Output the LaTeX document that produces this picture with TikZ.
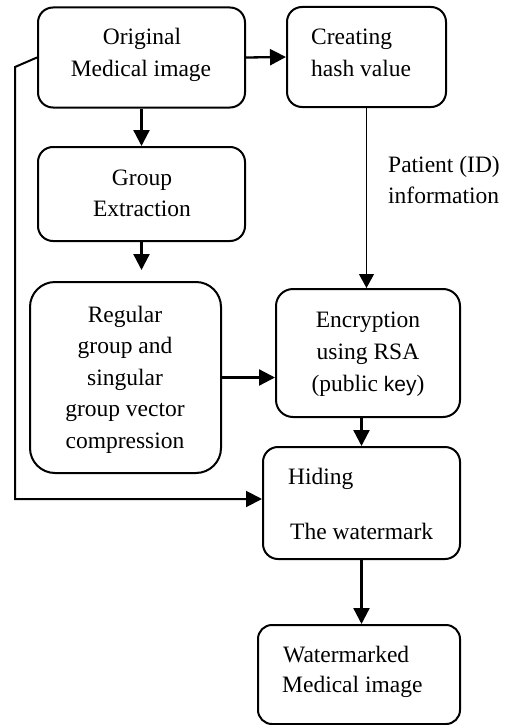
\documentclass[tikz,border=0pt]{standalone}
\usepackage{fontspec}
\setmainfont{Liberation Serif}
\newfontfamily\keyfont{Liberation Sans}
\usetikzlibrary{arrows.meta}
\begin{document}
\begin{tikzpicture}[x=1pt,y=-1pt,
  box/.style={draw, line width=2pt, rounded corners=15pt, inner sep=0pt},
  txt/.style={anchor=base, inner sep=0pt, font=\fontsize{23.5}{31}\selectfont},
  ltxt/.style={anchor=base west, inner sep=0pt, font=\fontsize{23.5}{31}\selectfont},
  arr/.style={line width=2.3pt, -{Triangle[length=16pt,width=16pt]}},
  thinarr/.style={line width=1.2pt, -{Triangle[length=14pt,width=15pt]}}]
\useasboundingbox (0,0) rectangle (505,725);
% boxes
\node[box, minimum width=207pt, minimum height=100pt] (b1) at (141.5,57.5) {};
\node[box, minimum width=159pt, minimum height=100pt] (b2) at (366.5,57) {};
\node[box, minimum width=207pt, minimum height=94pt] (b3) at (141.5,194) {};
\node[box, rounded corners=25pt, minimum width=191pt, minimum height=191pt] (b4) at (125.5,377.5) {};
\node[box, rounded corners=17pt, minimum width=184pt, minimum height=128pt] (b5) at (368,353) {};
\node[box, minimum width=197pt, minimum height=112pt] (b6) at (361.5,503) {};
\node[box, rounded corners=14pt, minimum width=202pt, minimum height=99pt] (b7) at (359,674.5) {};
% texts
\node[txt] (t1a) at (142,45) {Original};
\node[txt] (t1b) at (141,76) {Medical image};
\node[ltxt] (t2a) at (311,45) {Creating};
\node[ltxt] (t2b) at (311,76) {hash value};
\node[txt] (t3a) at (142,185) {Group};
\node[txt] (t3b) at (142,216) {Extraction};
\node[ltxt] (tpa) at (388,172) {Patient (ID)};
\node[ltxt] (tpb) at (388,203) {information};
\node[txt] (t4a) at (125,322) {Regular};
\node[txt] (t4b) at (125,353.5) {group and};
\node[txt] (t4c) at (125,385) {singular};
\node[txt] (t4d) at (125,416.5) {group vector};
\node[txt] (t4e) at (125,448) {compression};
\node[txt] (t5a) at (368,327) {Encryption};
\node[txt] (t5b) at (368,359) {using RSA};
\node[txt] (t5c) at (368,391) {(public {\keyfont\fontsize{21}{31}\selectfont key})};
\node[ltxt] (t6a) at (288,484) {Hiding};
\node[ltxt] (t6b) at (290,539) {The watermark};
\node[ltxt] (t7a) at (283,662) {Watermarked};
\node[ltxt] (t7b) at (282,692) {Medical image};
% connectors
\coordinate (c1) at (15,67);
\coordinate (c2) at (15,499);
\coordinate (t4) at (141.5,270);
\draw[arr] (b1.east) -- (b2.west);
\draw[arr] (b1.south) -- (b3.north);
\draw[arr] (b3.south) -- (t4);
\draw[thinarr] (b2.south) -- (b2.south |- b5.north);
\draw[arr] (b4.east) -- (b4.east -| b5.west);
\draw[arr] (b6.north |- b5.south) -- (b6.north);
\draw[arr] (b6.south) -- (b6.south |- b7.north);
\draw[arr, line width=2pt] (b1.west) -- (c1) -- (c2) -- (c2 -| b6.west);
\end{tikzpicture}
\end{document}
